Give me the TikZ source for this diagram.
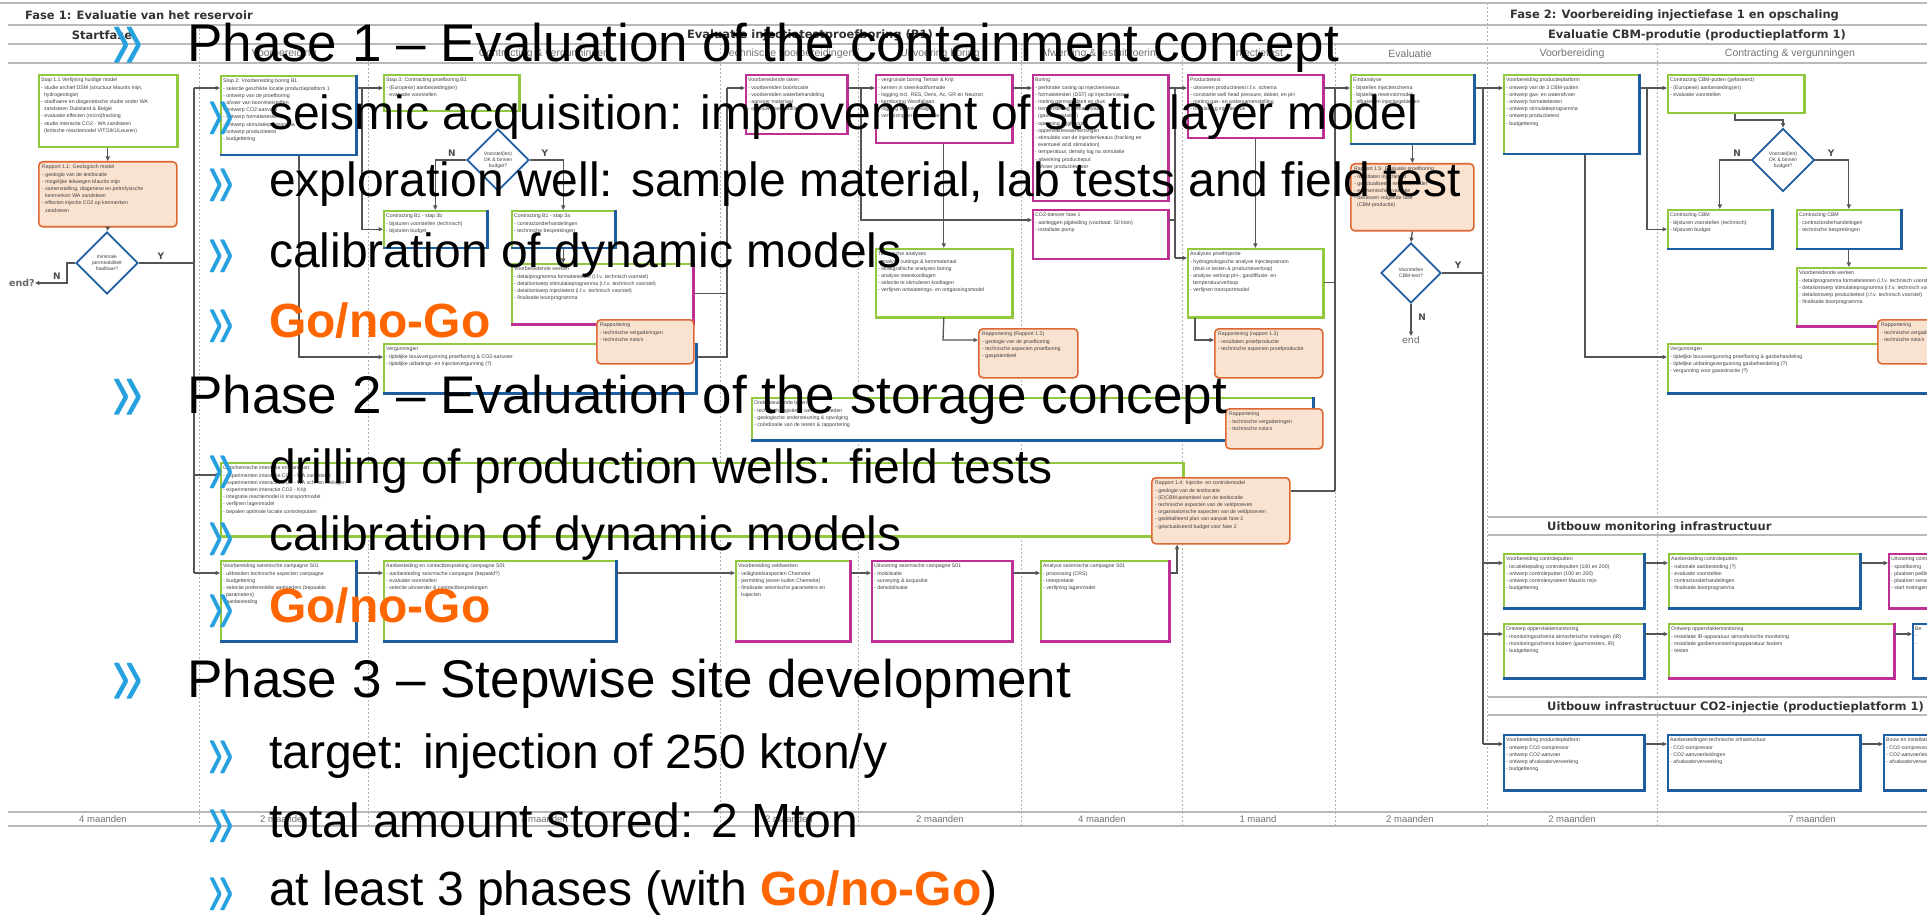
\documentclass[tikz,border=0pt]{standalone}
\usepackage{fontspec}
\usepackage{graphicx}
\setmainfont{Liberation Sans}
\newfontfamily\hdrfont{DejaVu Sans}
\usetikzlibrary{arrows.meta,shapes.geometric}

\definecolor{boxgreen}{RGB}{146,200,62}
\definecolor{boxblue}{RGB}{30,94,160}
\definecolor{boxmag}{RGB}{190,48,150}
\definecolor{repedge}{RGB}{222,104,52}
\definecolor{repfill}{RGB}{250,226,208}
\definecolor{linegray}{RGB}{85,85,85}
\definecolor{gridgray}{RGB}{185,185,185}
\definecolor{bulblue}{RGB}{38,160,222}
\definecolor{gonogo}{RGB}{255,102,0}

\tikzset{
  boxbase/.style={draw, line width=1.6pt, inner sep=0pt, fill=white},
  btxt/.style={font=\fontsize{5.2}{7.2}\selectfont, text=black!75, align=left, inner sep=0pt, anchor=north west},
  rbox/.style={draw=repedge, fill=repfill, line width=1.6pt, rounded corners=4pt, inner sep=0pt},
  dia/.style={diamond, draw=boxblue, line width=1.8pt, fill=white, inner sep=0pt, aspect=1,
              font=\fontsize{5}{6}\selectfont, text=black!75, align=center},
  conn/.style={draw=linegray, line width=1.3pt},
  arr/.style={conn, -{Triangle[length=4.5pt,width=4pt]}},
  hline/.style={draw=gridgray, line width=1.5pt},
  vdash/.style={draw=gray!60, line width=0.6pt, dash pattern=on 2pt off 2pt},
  hdr/.style={font=\hdrfont\bfseries\fontsize{11.5}{13}\selectfont, text=black!80, inner sep=0pt},
  subhdr/.style={font=\fontsize{10.5}{12}\selectfont, text=black!55, inner sep=0pt},
  tmlbl/.style={font=\fontsize{9.5}{11}\selectfont, text=black!55, inner sep=0pt},
  yn/.style={font=\hdrfont\bfseries\fontsize{9}{10}\selectfont, text=black!70, inner sep=0pt},
  phaseline/.style={anchor=base west, inner sep=0pt, font=\fontsize{53}{60}\selectfont},
  subline/.style={anchor=base west, inner sep=0pt, font=\fontsize{48}{56}\selectfont},
  goline/.style={anchor=base west, inner sep=0pt, text=gonogo, font=\fontsize{48}{56}\selectfont\bfseries},
  bulphase/.style={anchor=base, inner sep=0pt, text=bulblue, font=\fontsize{92}{92}\selectfont},
  bulsub/.style={anchor=base, inner sep=0pt, text=bulblue, font=\fontsize{84}{84}\selectfont},
}

% box with a top/left colour and a heavier bottom/right colour
\newcommand{\flowbox}[8]{%
  \node[boxbase, draw=#6, minimum width=#4pt, minimum height=#5pt, anchor=north west] (#1) at (#2,#3) {};
  \draw[line width=2.6pt, #7] ([xshift=-0.4pt]#1.north east) -- ([xshift=-0.4pt,yshift=0.4pt]#1.south east) -- ([yshift=0.4pt]#1.south west);
  \node[btxt] (#1t) at ([xshift=3pt,yshift=-4pt]#1.north west) {#8};
}
% rounded report box
\newcommand{\repbox}[6]{%
  \node[rbox, minimum width=#4pt, minimum height=#5pt, anchor=north west] (#1) at (#2,#3) {};
  \node[btxt] (#1t) at ([xshift=4pt,yshift=-4pt]#1.north west) {#6};
}
% slide bullets
\newcommand{\bphase}{\scalebox{0.6}[1]{»}}
\newcommand{\bsub}{\scalebox{0.55}[1]{»}}

\begin{document}
\begin{tikzpicture}[x=1pt,y=-1pt]
\useasboundingbox (0,0) rectangle (1927,917);
\fill[white] (0,0) rectangle (1927,917);
\begin{scope}
\clip (0,0) rectangle (1927,917);

% ---------- table grid ----------
\draw[hline] (0,3) -- (1927,3);
\draw[hline] (8,25) -- (1927,25);
\draw[hline] (8,44) -- (1927,44);
\draw[hline] (8,63) -- (1927,63);
\draw[hline] (8,812) -- (1927,812);
\draw[hline] (8,826) -- (1927,826);
\draw[hline] (1488,517) -- (1927,517);
\draw[hline] (1488,535) -- (1927,535);
\draw[hline] (1488,697) -- (1927,697);
\draw[hline] (1488,715) -- (1927,715);
\draw[vdash] (199,25) -- (199,826);
\draw[vdash] (1487,3) -- (1487,826);
\foreach \cx in {368,720,858,1021,1182,1335,1657}
  \draw[vdash] (\cx,44) -- (\cx,826);

% ---------- headers ----------
\node[hdr, anchor=west] (h1) at (25,15) {Fase 1: Evaluatie van het reservoir};
\node[hdr] (h2) at (102,35) {Startfase};
\node[hdr] (h3) at (810,35) {Evaluatie injectietestproefboring (B1)};
\node[hdr, anchor=west] (h4) at (1510,15) {Fase 2: Voorbereiding injectiefase 1 en opschaling};
\node[hdr] (h5) at (1697,35) {Evaluatie CBM-produtie (productieplatform 1)};
\node[subhdr] (sh1) at (284,54) {Voorbereiding};
\node[subhdr] (sh2) at (544,54) {Contracting \& vergunningen};
\node[subhdr] (sh3) at (789,54) {Technische voorbereidingen};
\node[subhdr] (sh4) at (940,54) {Uitvoering boring};
\node[subhdr] (sh5) at (1101,54) {Afwerking \& testuitvoering};
\node[subhdr] (sh6) at (1258,54) {Injectietest};
\node[subhdr] (sh7) at (1410,54) {Evaluatie};
\node[subhdr] (sh8) at (1572,54) {Voorbereiding};
\node[subhdr] (sh9) at (1790,54) {Contracting \& vergunningen};
\node[hdr, anchor=west] (h6) at (1547,527) {Uitbouw monitoring infrastructuur};
\node[hdr, anchor=west] (h7) at (1547,707) {Uitbouw infrastructuur CO2-injectie (productieplatform 1)};

% ---------- time line ----------
\node[tmlbl] (t1) at (103,819) {4 maanden};
\node[tmlbl] (t2) at (284,819) {2 maanden};
\node[tmlbl] (t3) at (544,819) {7 maanden};
\node[tmlbl] (t4) at (789,819) {2 maanden};
\node[tmlbl] (t5) at (940,819) {2 maanden};
\node[tmlbl] (t6) at (1102,819) {4 maanden};
\node[tmlbl] (t7) at (1258,819) {1 maand};
\node[tmlbl] (t8) at (1410,819) {2 maanden};
\node[tmlbl] (t9) at (1572,819) {2 maanden};
\node[tmlbl] (t10) at (1812,819) {7 maanden};

% ---------- start phase ----------
\flowbox{s11}{38}{74}{138}{72}{boxgreen}{boxgreen}{Stap 1.1 Verfijning huidige model\\- studie archief DSM (structuur Maurits mijn,\\\ \ hydrogeologie)\\- stadhaere en diagenetische studie onder WA\\\ \ zandsteen Duitsland \& Belgi\"e\\- evaluatie effecten (micro)fracking\\- studie interactie CO2 - WA zandsteen\\\ \ (kritische reactiemodel VITO/KULeuven)}
\repbox{r11}{38}{161}{138}{65}{Rapport 1.1: Geologisch model\\- geologie van de testlocatie\\- mogelijke lekwegen Maurits mijn\\- samenstelling, diagenese en petrofysische\\\ \ kenmerken WA zandsteen\\- effecten injectie CO2 op kenmerken\\\ \ zandsteen}
\node[dia, minimum width=62pt, minimum height=62pt] (d1) at (107,263) {minimale\\permeabiliteit\\haalbaar?};
\node[yn, font=\hdrfont\bfseries\fontsize{9.5}{10}\selectfont, text=black!60] (endq) at (22,283) {end?};
\node[yn] (y1) at (161,256) {Y};
\node[yn] (n1) at (57,276) {N};

% ---------- proefboring B1 ----------
\flowbox{s2}{220}{75}{135}{79}{boxgreen}{boxblue}{Stap 2: Voorbereiding boring B1\\- selectie geschikte locatie productieplatform 1\\- ontwerp van de proefboring\\- afvoer van boorvloeistoffen\\- ontwerp CO2-aanvoer\\- ontwerp formatietesten\\- ontwerp stimulatieprogramma\\- ontwerp productietest\\- budgettering}
\flowbox{s3}{383}{74}{135}{36}{boxgreen}{boxgreen}{Stap 3: Contracting proefboring B1\\- (Europese) aanbesteding(en)\\- evaluatie voorstellen}
\node[dia, minimum width=62pt, minimum height=62pt] (d2) at (498,160) {Voorstel(len)\\OK \& binnen\\budget?};
\node[yn] (n2) at (452,153) {N};
\node[yn] (y2) at (545,153) {Y};
\flowbox{s3b}{383}{210}{103}{37}{boxgreen}{boxblue}{Contracting B1 - stap 3b\\- bijsturen voorstellen (technisch)\\- bijsturen budget}
\flowbox{s3a}{511}{210}{103}{37}{boxgreen}{boxblue}{Contracting B1 - stap 3a\\- contractonderhandelingen\\- technische besprekingen}
\flowbox{vw1}{511}{263}{181}{60}{boxgreen}{boxmag}{Voorbereidende werken\\- detailprogramma formatietesten (i.f.v. technisch voorstel)\\- detailontwerp stimulatieprogramma (i.f.v. technisch voorstel)\\- detailontwerp injectietest (i.f.v. technisch voorstel)\\- finalisatie boorprogramma}
\flowbox{vg1}{383}{343}{312}{49}{boxgreen}{boxblue}{Vergunningen\\- tijdelijke bouwvergunning proefboring \& CO2-aanvoer\\- tijdelijke uitbatings- en injectievergunning (?)}
\repbox{rp1}{596}{319}{97}{44}{Rapportering\\- technische vergaderingen\\- technische nota's}

\flowbox{vt}{745}{74}{101}{59}{boxmag}{boxmag}{Voorbereidende taken\\- voorbereiden boorlocatie\\- voorbereiden waterbehandeling\\- aanvoer materiaal\\- opbouw boorinstallatie}
\flowbox{vb}{875}{74}{136}{68}{boxmag}{boxmag}{- vergruisde boring Tertiair \& Krijt\\- kernen in steenkoolformatie\\- logging incl. RES, Dens, Ac, GR en Neutron\\- kernboring Westfaliaan\\- logging steenkoollagen\\- verbuizing en cementatie}
\flowbox{bo}{1032}{74}{135}{126}{boxmag}{boxmag}{Boring\\- perforatie casing op injectieniveaus\\- formatietesten (DST) op injectieniveaus\\- meting permeabiliteit en druk\\- bemonstering formatiewater\\\ \ (gas/waterstalen)\\- opmeting stijghoogte\\- opperviaktewaarnemingen\\- stimulatie van de injectieniveaus (fracking en\\\ \ eventueel acid stimulation)\\- temperatuur, density log na stimulatie\\- afwerking productieput\\- afvoer productiewater}
\flowbox{co2}{1032}{209}{135}{49}{boxmag}{boxmag}{CO2-toevoer fase 1\\- aanleggen pijpleiding (voorbaat: 50 kton)\\- installatie pomp}
\flowbox{pt}{1187}{74}{135}{63}{boxmag}{boxmag}{Productietest\\- uitvoeren productietest i.f.v. schema\\- constante well head pressure, debiet, en pH\\- meting gas- en watersamenstelling\\- monitoring injectiedruk}
\flowbox{ea}{1350}{74}{123}{69}{boxgreen}{boxblue}{Eindanalyse\\- bijstellen injectieschema\\- bijstellen reservoirmodel\\- afbakenen injectiegebieden}
\repbox{r15}{1350}{163}{123}{67}{Rapport 1.5: Evaluatie proefboring\\- resultaten injectietest\\- geactualiseerd reservoirmodel\\- economische evaluatie\\- beslissen volgende fase\\\ \ (CBM-productie)}
\node[dia, minimum width=60pt, minimum height=60pt] (d3) at (1411,273) {Voorstellen\\CBM-test?};
\node[yn] (y3) at (1458,265) {Y};
\node[yn] (n3) at (1422,317) {N};
\node[yn, font=\hdrfont\fontsize{9.5}{10}\selectfont, text=black!60] (endb) at (1411,340) {end};

\flowbox{ta}{875}{248}{136}{68}{boxgreen}{boxgreen}{Technische analyses\\- analyse cuttings \& kernmateriaal\\- stratigrafische analyses boring\\- analyse steenkoollagen\\- selectie te stimuleren koollagen\\- verfijnen ontwaterings- en ontgassingsmodel}
\repbox{r12}{978}{328}{99}{49}{Rapportering (Rapport 1.2)\\- geologie van de proefboring\\- technische aspecten proefboring\\- gaspotentieel}
\flowbox{ap}{1187}{248}{135}{68}{boxgreen}{boxgreen}{Analyses proefinjectie\\- hydrogeologische analyse injectiepatroon\\\ \ (druk in testen \& productieverloop)\\- analyse verloop pH-, gasdiffusie- en\\\ \ temperatuurverloop\\- verfijnen transportmodel}
\repbox{r13}{1214}{328}{108}{49}{Rapportering (rapport 1.3)\\- resultaten proefproductie\\- technische aspecten proefproductie}

\flowbox{ot}{751}{397}{561}{42}{boxgreen}{boxblue}{Ondersteunende taken\\- technisch-logistieke werkzaamheden\\- geologische ondersteuning \& opvolging\\- co\"ordinatie van de testen \& rapportering}
\repbox{rp2}{1225}{408}{97}{40}{Rapportering\\- technische vergaderingen\\- technische nota's}

\flowbox{sia}{220}{462}{962}{73}{boxgreen}{boxgreen}{Geochemische interactie en transport\\- experimenten interactie CO2 - WA zandsteen\\- experimenten interactie CO2 - WA sch. en kleilagen\\- experimenten interactie CO2 - Krijt\\- integratie reactiemodel in transportmodel\\- verfijnen lagenmodel\\- bepalen optimale locatie controleputten}
\repbox{r14}{1151}{477}{138}{66}{Rapport 1.4: Injectie- en controlemodel\\- geologie van de testlocatie\\- (E)CBM-potentieel van de testlocatie\\- technische aspecten van de veldproeven\\- organisatorische aspecten van de veldproeven\\- gedetailleerd plan van aanpak fase 2\\- geactualiseerd budget voor fase 2}

\flowbox{vsc}{220}{560}{135}{80}{boxgreen}{boxblue}{Voorbereiding seismische campagne S01\\- uitbreiden technische aspecten campagne\\- budgettering\\- selectie preferenti\"ele aanbieders (bepaalde\\\ \ parameters)\\- aanbesteding}
\flowbox{acs}{383}{560}{232}{80}{boxgreen}{boxblue}{Aanbesteding en contactbespreking campagne S01\\- aanbesteding seismische campagne (bepaald?)\\- evaluatie voorstellen\\- selectie uitvoerder \& contractbesprekingen}
\flowbox{vvw}{735}{560}{114}{80}{boxgreen}{boxmag}{Voorbereiding veldwerken\\- veiligheidsaspecten Chemelot\\- permitting (eisen kuilen Chemelot)\\- finalisatie seismische parameters en\\\ \ trajecten}
\flowbox{usc}{871}{560}{140}{80}{boxmag}{boxmag}{Uitvoering seismische campagne S01\\- mobilisatie\\- surveying \& acquisitie\\- demobilisatie}
\flowbox{asc}{1040}{560}{128}{80}{boxgreen}{boxmag}{Analyse seismische campagne S01\\- processing (CRS)\\- interpretatie\\- verfijning lagenmodel}

% ---------- phase 2 ----------
\flowbox{vp}{1503}{74}{135}{79}{boxgreen}{boxblue}{Voorbereiding productieplatform\\- ontwerp van de 3 CBM-putten\\- ontwerp gas- en waterafvoer\\- ontwerp formatietesten\\- ontwerp stimulatieprogramma\\- ontwerp productietest\\- budgettering}
\flowbox{cc}{1667}{74}{136}{38}{boxgreen}{boxgreen}{Contracting CBM-putten (gefaseerd)\\- (Europese) aanbesteding(en)\\- evaluatie voorstellen}
\node[dia, minimum width=63pt, minimum height=63pt] (d4) at (1783,160) {Voorstel(len)\\OK \& binnen\\budget?};
\node[yn] (n4) at (1737,153) {N};
\node[yn] (y4) at (1831,153) {Y};
\flowbox{ccn}{1667}{209}{104}{39}{boxgreen}{boxblue}{Contracting CBM\\- bijsturen voorstellen (technisch)\\- bijsturen budget}
\flowbox{ccy}{1796}{209}{104}{39}{boxgreen}{boxblue}{Contracting CBM\\- contractonderhandelingen\\- technische besprekingen}
\flowbox{vw2}{1796}{267}{160}{58}{boxgreen}{boxmag}{Voorbereidende werken\\- detailprogramma formatietesten (i.f.v. technisch voorstel)\\- detailontwerp stimulatieprogramma (i.f.v. technisch voorstel)\\- detailontwerp productietest (i.f.v. technisch voorstel)\\- finalisatie boorprogramma}
\flowbox{vg2}{1667}{343}{290}{49}{boxgreen}{boxblue}{Vergunningen\\- tijdelijke bouwvergunning proefboring \& gasbehandeling\\- tijdelijke uitbatingsvergunning gasbehandeling (?)\\- vergunning voor gasextractie (?)}
\repbox{rp3}{1877}{319}{80}{44}{Rapportering\\- technische vergaderingen\\- technische nota's}

\flowbox{vc}{1503}{553}{140}{54}{boxgreen}{boxblue}{Voorbereiding controleputten\\- locatiebepaling controleputten (100 en 200)\\- ontwerp controleputten (100 en 200)\\- ontwerp controlesysteem Maurits mijn\\- budgettering}
\flowbox{ac}{1668}{553}{191}{54}{boxgreen}{boxblue}{Aanbesteding controleputten\\- nationale aanbesteding (?)\\- evaluatie voorstellen\\- contractonderhandelingen\\- finalisatie boorprogramma}
\flowbox{uc}{1888}{553}{70}{54}{boxmag}{boxmag}{Uitvoering controleputten\\- spoelboring\\- plaatsen peilbuizen\\- plaatsen sensoren\\- start metingen}
\flowbox{oo1}{1503}{623}{140}{54}{boxgreen}{boxblue}{Ontwerp oppervlaktemonitoring\\- monitoringsschema atmosferische metingen (IR)\\- monitoringsschema bodem (gasmonsters, IR)\\- budgettering}
\flowbox{oo2}{1668}{623}{225}{54}{boxgreen}{boxmag}{Ontwerp oppervlaktemonitoring\\- installatie IR-apparatuur atmosferische monitoring\\- installatie gasbemonsteringsapparatuur bodem\\- testen}
\flowbox{oo3}{1912}{623}{40}{54}{boxblue}{boxblue}{Be\\- \\- }
\flowbox{vp2}{1503}{734}{140}{55}{boxblue}{boxblue}{Voorbereiding productieplatform\\- ontwerp CO2-compressor\\- ontwerp CO2-aanvoer\\- ontwerp afvalwaterverwerking\\- budgettering}
\flowbox{ati}{1667}{734}{192}{55}{boxblue}{boxblue}{Aanbestedingen technische infrastructuur\\- CO2-compressor\\- CO2-aanvoerleidingen\\- afvalwaterverwerking}
\flowbox{bi}{1883}{734}{70}{55}{boxblue}{boxblue}{Bouw en installatie\\- CO2-compressor\\- CO2-aanvoerleidingen\\- afvalwaterverwerking}

% ---------- connectors: start phase ----------
\coordinate (lt0) at (194,88);
\coordinate (lt1) at (194,475);
\coordinate (lt2) at (194,573);
\coordinate (nd1) at (67,283);
\draw[arr] (s11.south) -- (r11.north);
\draw[arr] (r11.south) -- (d1.north);
\draw[conn] (d1.east) -- (d1.east -| lt0);
\draw[conn] (lt0) -- (lt2);
\draw[arr] (lt0) -- (lt0 -| s2.west);
\draw[arr] (lt1) -- (lt1 -| sia.west);
\draw[arr] (lt2) -- (lt2 -| vsc.west);
\draw[arr] (d1.west) -| (nd1) -- (endq.east);

% ---------- connectors: proefboring ----------
\coordinate (b1) at (362,88);
\coordinate (b2) at (299,357);
\coordinate (mt0) at (727,88);
\coordinate (mt1) at (727,357);
\draw[arr] (s2.east |- lt0) -- (s3.west |- lt0);
\draw[arr] (b1) |- (s3b.west);
\draw[arr] (s3.south -| d2.north) -- (d2.north);
\draw[arr] (d2.west) -| (s3b.north);
\draw[arr] (d2.east) -| (s3a.north);
\draw[arr] (s3a.south) -- (s3a.south |- vw1.north);
\draw[arr] (s2.south -| b2) -- (b2) -- (b2 -| vg1.west);
\draw[conn] (vg1.east |- mt1) -- (mt1) -- (mt0);
\draw[conn] (vw1.east) -- (vw1.east -| mt0);
\draw[arr] (mt0) -- (mt0 -| vt.west);

\coordinate (m2) at (861,88);
\coordinate (m2b) at (861,220);
\coordinate (m3) at (1175,88);
\coordinate (m3b) at (1175,258);
\coordinate (m4) at (943,340);
\coordinate (m5) at (1195,340);
\coordinate (m6) at (1335,88);
\coordinate (m6b) at (1335,491);
\draw[arr] (vt.east |- mt0) -- (vb.west |- mt0);
\draw[arr] (m2) -- (m2b) -- (m2b -| co2.west);
\draw[arr] (vb.south) -- (ta.north);
\draw[arr] (vb.east |- mt0) -- (bo.west |- mt0);
\draw[arr] (bo.east |- mt0) -- (pt.west |- mt0);
\draw[conn] (m3) -- (m3b);
\draw[arr] (m3b) -- (m3b -| ap.west);
\draw[conn] (co2.east |- m2b) -- (m2b -| m3);
\draw[arr] (pt.south) -- (pt.south |- ap.north);
\draw[arr] (ta.south) -- (m4) -- (m4 -| r12.west);
\draw[arr] (ap.south -| m5) -- (m5) -- (m5 -| r13.west);
\draw[conn] (m6b) -- (m6);
\draw[arr] (pt.east |- m6) -- (ea.west |- m6);
\draw[conn] (ap.east) -- (ap.east -| m6);
\draw[conn] (r14.east |- m6b) -- (m6b);
\draw[arr] (ea.south) -- (r15.north);
\draw[arr] (r15.south) -- (d3.north);
\draw[arr] (d3.south) -- (endb.north);

% ---------- connectors: seismic campaign ----------
\coordinate (b14) at (1177,573);
\draw[arr] (vsc.east |- lt2) -- (acs.west |- lt2);
\draw[arr] (acs.east |- lt2) -- (vvw.west |- lt2);
\draw[arr] (vvw.east |- lt2) -- (usc.west |- lt2);
\draw[arr] (usc.east |- lt2) -- (asc.west |- lt2);
\draw[arr] (asc.east |- b14) -- (b14) -- (b14 |- r14.south);

% ---------- connectors: phase 2 ----------
\coordinate (rt0) at (1483,88);
\coordinate (rt1) at (1483,744);
\coordinate (rt2) at (1483,563);
\coordinate (rt3) at (1483,634);
\coordinate (rr1) at (1647,88);
\coordinate (rr2) at (1735,120);
\coordinate (rr3) at (1585,357);
\draw[conn] (ea.east |- rt0) -- (rt0) -- (rt1);
\draw[conn] (d3.east) -- (d3.east -| rt0);
\draw[arr] (rt0) -- (rt0 -| vp.west);
\draw[arr] (rt2) -- (rt2 -| vc.west);
\draw[arr] (rt3) -- (rt3 -| oo1.west);
\draw[arr] (rt1) -- (rt1 -| vp2.west);
\draw[arr] (vp.east |- rr1) -- (cc.west |- rr1);
\draw[arr] (rr1) |- (ccn.west);
\draw[arr] (cc.south -| rr2) -- (rr2) -| (d4.north);
\draw[arr] (d4.west) -| (ccn.north);
\draw[arr] (d4.east) -| (ccy.north);
\draw[arr] (ccy.south) -- (ccy.south |- vw2.north);
\draw[arr] (vp.south -| rr3) -- (rr3) -- (rr3 -| vg2.west);
\draw[arr] (vc.east |- rt2) -- (ac.west |- rt2);
\draw[arr] (ac.east |- rt2) -- (uc.west |- rt2);
\draw[arr] (oo1.east |- rt3) -- (oo2.west |- rt3);
\draw[arr] (oo2.east |- rt3) -- (oo3.west |- rt3);
\draw[arr] (vp2.east |- rt1) -- (ati.west |- rt1);
\draw[arr] (ati.east |- rt1) -- (bi.west |- rt1);

% ---------- slide text ----------
\node[bulphase] (bA) at (128,70) {\bphase};
\node[phaseline] (pA) at (187,62) {Phase 1 – Evaluation of the containment concept};
\node[bulsub] (bA1) at (221,141) {\bsub};
\node[subline] (pA1) at (269,130) {seismic acquisition: improvement of static layer model};
\node[bulsub] (bA2) at (221,208) {\bsub};
\node[subline] (pA2) at (269,197) {exploration well: sample material, lab tests and field test};
\node[bulsub] (bA3) at (221,279) {\bsub};
\node[subline] (pA3) at (269,268) {calibration of dynamic models};
\node[bulsub] (bA4) at (221,348) {\bsub};
\node[goline] (pA4) at (269,337) {Go/no-Go};

\node[bulphase] (bB) at (128,421) {\bphase};
\node[phaseline] (pB) at (187,413) {Phase 2 – Evaluation of the storage concept};
\node[bulsub] (bB1) at (221,494) {\bsub};
\node[subline] (pB1) at (269,483) {drilling of production wells: field tests};
\node[bulsub] (bB2) at (221,561) {\bsub};
\node[subline] (pB2) at (269,550) {calibration of dynamic models};
\node[bulsub] (bB3) at (221,633) {\bsub};
\node[goline] (pB3) at (269,622) {Go/no-Go};

\node[bulphase] (bC) at (128,705) {\bphase};
\node[phaseline] (pC) at (187,697) {Phase 3 – Stepwise site development};
\node[bulsub] (bC1) at (221,779) {\bsub};
\node[subline] (pC1) at (269,768) {target: injection of 250 kton/y};
\node[bulsub] (bC2) at (221,848) {\bsub};
\node[subline] (pC2) at (269,837) {total amount stored: 2 Mton};
\node[bulsub] (bC3) at (221,916) {\bsub};
\node[subline] (pC3) at (269,905) {at least 3 phases (with \textcolor{gonogo}{\bfseries Go/no-Go})};
\end{scope}
\end{tikzpicture}
\end{document}
